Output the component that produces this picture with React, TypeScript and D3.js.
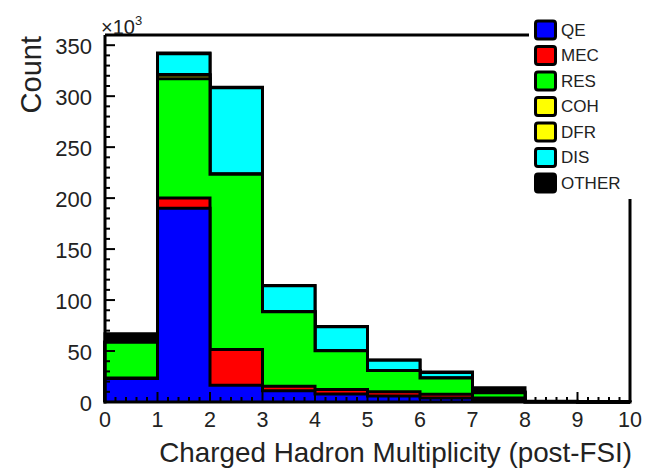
import React from "react";
import * as d3 from "d3";

// Bin edges of the charged hadron multiplicity histogram (0..10, unit width)
const binEdges = d3.range(0, 11);

// Event counts per bin, in thousands, for each interaction channel
const QE = [23, 190, 16.5, 11, 7.8, 6, 4, 2.5, 0.1, 0];
const MEC = [0.5, 10, 35, 4.5, 4.5, 4, 3.5, 1.5, 0, 0];
const RES = [35, 117, 172, 73, 38, 21, 16, 5, 0.3, 0];
const COH = [0, 3.5, 0, 0, 0, 0, 0, 0, 0, 0];
const DFR = [0, 0.7, 0.3, 0, 0, 0, 0, 0, 0, 0];
const DIS = [0, 20.3, 84.5, 25.5, 23.5, 10, 5.5, 1, 0.1, 0];
const OTHER = [8.5, 0.8, 0.5, 0.3, 0.3, 0.3, 0.5, 4, 0.3, 0.2];

const channels = ["QE", "MEC", "RES", "COH", "DFR", "DIS", "OTHER"];
const channelColors = ["#0000ff", "#ff0000", "#00ff00", "#ffff00", "#ffff00", "#00ffff", "#000000"];

const xTicks = d3.range(0, 11);
const yTicks = [0, 50, 100, 150, 200, 250, 300, 350];

const W = 647;
const H = 469;
const FONT = "'Liberation Sans', Arial, Helvetica, sans-serif";

export default function App() {
  const seriesValues = [QE, MEC, RES, COH, DFR, DIS, OTHER];
  const rows = binEdges.slice(0, -1).map((lo, i) => {
    const r: Record<string, number> = { lo };
    channels.forEach((c, k) => (r[c] = seriesValues[k][i]));
    return r;
  });
  const stacked = d3.stack<Record<string, number>>().keys(channels)(rows);

  const x = d3.scaleLinear().domain([0, 10]).range([105, 630]);
  const y = d3.scaleLinear().domain([0, 360]).range([402, 35]);

  const y0 = y(0);
  // step outline of a cumulative histogram
  const stepPoints = (layer: d3.Series<Record<string, number>, string>) => {
    const pts: [number, number][] = [[x(0), y0]];
    layer.forEach((d, i) => {
      pts.push([x(binEdges[i]), y(d[1])]);
      pts.push([x(binEdges[i + 1]), y(d[1])]);
    });
    pts.push([x(10), y0]);
    return pts;
  };
  const line = d3.line();

  const xMinor = d3.range(0, 10.001, 0.2);
  const yMinor = d3.range(0, 360, 10);

  const legendY = d3.scaleLinear().domain([0, 6]).range([30, 183]);

  return (
    <svg
      width={W}
      height={H}
      style={{ position: "absolute", left: 0, top: 0, background: "#fff" }}
      fontFamily={FONT}
    >
      <rect width={W} height={H} fill="#fff" />
      {/* cumulative histograms, drawn from the full stack down */}
      {stacked
        .slice()
        .reverse()
        .map((layer) => {
          const k = channels.indexOf(layer.key);
          const pts = stepPoints(layer);
          return (
            <g key={layer.key}>
              <path d={line(pts) + "Z"} fill={channelColors[k]} stroke="none" />
              <path d={line(pts) || ""} fill="none" stroke="#000" strokeWidth={3} strokeLinejoin="miter" />
            </g>
          );
        })}

      {/* frame */}
      <line x1={x(0)} x2={x(10)} y1={y(360)} y2={y(360)} stroke="#000" strokeWidth={3} />
      <line x1={x(10)} x2={x(10)} y1={y(360)} y2={y0} stroke="#000" strokeWidth={3} />

      {/* x axis */}
      <line x1={x(0) - 1.5} x2={x(10) + 1.5} y1={y0} y2={y0} stroke="#000" strokeWidth={3} />
      {xMinor.map((t, i) => (
        <line
          key={"xm" + i}
          x1={x(t)}
          x2={x(t)}
          y1={y0}
          y2={y0 - (Math.abs(t - Math.round(t)) < 1e-6 ? 10 : 5)}
          stroke="#000"
          strokeWidth={2}
        />
      ))}
      {xTicks.map((t) => (
        <text key={"xl" + t} x={x(t)} y={427} fontSize={21.5} textAnchor="middle" fill="#222">
          {t}
        </text>
      ))}

      {/* y axis */}
      <line x1={x(0)} x2={x(0)} y1={y(360)} y2={y0 + 1.5} stroke="#000" strokeWidth={3} />
      {yMinor.map((t) => (
        <line
          key={"ym" + t}
          x1={x(0)}
          x2={x(0) + (t % 50 === 0 ? 10 : 5)}
          y1={y(t)}
          y2={y(t)}
          stroke="#000"
          strokeWidth={2}
        />
      ))}
      {yTicks.map((t) => (
        <text key={"yl" + t} x={92} y={y(t) + 1.5} fontSize={22} textAnchor="end" dominantBaseline="central" fill="#222">
          {t}
        </text>
      ))}
      <text x={101} y={34} fontSize={20} fill="#222">
        ×10
        <tspan fontSize={13} dy={-9}>
          3
        </tspan>
      </text>

      {/* axis titles */}
      <text x={632} y={462} fontSize={27.8} textAnchor="end" fill="#222">
        Charged Hadron Multiplicity (post-FSI)
      </text>
      <text transform="translate(41,36) rotate(-90)" fontSize={29} textAnchor="end" fill="#222">
        Count
      </text>

      {/* legend */}
      <rect x={529} y={18} width={W - 529} height={181} fill="#fff" />
      {channels.map((c, k) => (
        <g key={"lg" + c}>
          <rect
            x={535.5}
            y={legendY(k) - 9}
            width={20}
            height={18}
            rx={2.5}
            fill={channelColors[k]}
            stroke="#000"
            strokeWidth={3}
          />
          <text x={561} y={legendY(k)} fontSize={17} dominantBaseline="central" fill="#222">
            {c}
          </text>
        </g>
      ))}
    </svg>
  );
}
